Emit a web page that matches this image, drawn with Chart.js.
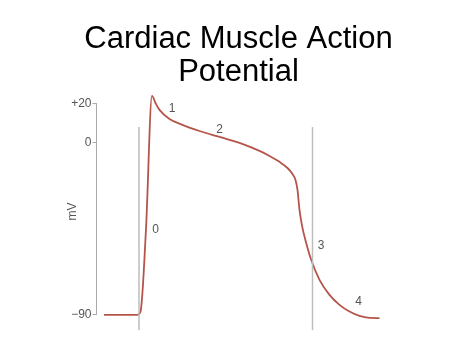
<!DOCTYPE html>
<html>
<head>
<meta charset="utf-8">
<title>Cardiac Muscle Action Potential</title>
<script src="https://cdn.jsdelivr.net/npm/chart.js@4/dist/chart.umd.min.js"></script>
<style>
  html, body { margin: 0; padding: 0; background: #fff; }
  #chart { display: block; }
</style>
</head>
<body>
<canvas id="chart" width="474" height="355"></canvas>
<script>
/* ── Data ─────────────────────────────────────────────────────── */

// time axis is arbitrary (no units shown on the figure)
const timePoints = [7.5, 41, 44, 49.5, 55.5, 59, 63, 73, 86, 103, 123, 143, 163, 173, 183, 191, 196, 199, 201, 203, 205.7, 209.7, 214.7, 223, 233, 243, 253, 263, 273, 283];
const membraneMv = [-90, -90, -88.4, -45.2, 24.2, 20.5, 16.9, 12.2, 9.1, 5.9, 2.8, -0.3, -4.5, -7.1, -10.2, -13.4, -16.5, -19.6, -24.8, -35.3, -44, -52.5, -61.3, -71.8, -79.6, -84.8, -88.3, -90.6, -91.6, -91.7];

const yTicks = [20, 0, -90];

// grey reference lines
const markerTimes  = [42.5, 216];
const markerTop    = 8;
const markerBottom = -98;

// phase numbers
const phaseLabels = ['0', '1', '2', '3', '4'];
const phaseTimes  = [59, 75.7, 123, 224.7, 262];
const phaseMv     = [-45.7, 17.4, 6.4, -54, -83];

/* ── Chart ────────────────────────────────────────────────────── */

const phaseLabelPlugin = {
  id: 'phaseLabels',
  afterDatasetsDraw(chart) {
    const { ctx, scales: { x, y } } = chart;
    ctx.save();
    ctx.font = '12px "Liberation Sans", Arial, sans-serif';
    ctx.fillStyle = '#555';
    ctx.textAlign = 'center';
    ctx.textBaseline = 'middle';
    phaseLabels.forEach((lbl, i) => {
      ctx.fillText(lbl, x.getPixelForValue(phaseTimes[i]), y.getPixelForValue(phaseMv[i]));
    });
    ctx.restore();
  },
};

const markerSets = markerTimes.map(t => ({
  data: [{ x: t, y: markerBottom }, { x: t, y: markerTop }],
  borderColor: '#bdbdbd',
  borderWidth: 1.5,
  pointRadius: 0,
  clip: false,
}));

new Chart(document.getElementById('chart'), {
  type: 'line',
  data: {
    datasets: [
      ...markerSets,
      {
        // y axis line, only between the outer ticks
        data: [{ x: 0, y: yTicks[yTicks.length - 1] }, { x: 0, y: yTicks[0] }],
        borderColor: '#aaa',
        borderWidth: 1,
        pointRadius: 0,
        clip: false,
      },
      {
        label: 'Membrane potential',
        data: timePoints.map((t, i) => ({ x: t, y: membraneMv[i] })),
        borderColor: '#b5554a',
        borderWidth: 1.8,
        pointRadius: 0,
        cubicInterpolationMode: 'monotone',
        clip: false,
      },
    ],
  },
  options: {
    responsive: false,
    animation: false,
    layout: { padding: { left: 3, right: 0, top: 0, bottom: 21 } },
    plugins: {
      legend: { display: false },
      tooltip: { enabled: false },
      title: {
        display: true,
        text: ['Cardiac Muscle Action', 'Potential'],
        color: '#000',
        font: { family: '"Liberation Sans", Arial, sans-serif', size: 31, weight: 'normal', lineHeight: 1.065 },
        padding: { top: 22.8, bottom: 0 },
      },
    },
    scales: {
      x: {
        type: 'linear',
        display: false,
        min: 0,
        max: 377.5,
      },
      y: {
        type: 'linear',
        min: -100,
        max: 27.9,
        afterBuildTicks: scale => { scale.ticks = yTicks.map(v => ({ value: v })); },
        afterFit: scale => { scale.width = 93.5; },
        border: { display: false },
        grid: { drawOnChartArea: false, drawTicks: true, tickLength: 4, color: '#aaa' },
        ticks: {
          padding: 1,
          color: '#555',
          font: { family: '"Liberation Sans", Arial, sans-serif', size: 12 },
          callback: v => v > 0 ? `+${v}` : v < 0 ? `\u2212${Math.abs(v)}` : '0',
        },
        title: {
          display: true,
          text: 'mV',
          color: '#555',
          padding: { top: 62, bottom: 0 },
          font: { family: '"Liberation Sans", Arial, sans-serif', size: 12 },
        },
      },
    },
  },
  plugins: [phaseLabelPlugin],
});
</script>
</body>
</html>
